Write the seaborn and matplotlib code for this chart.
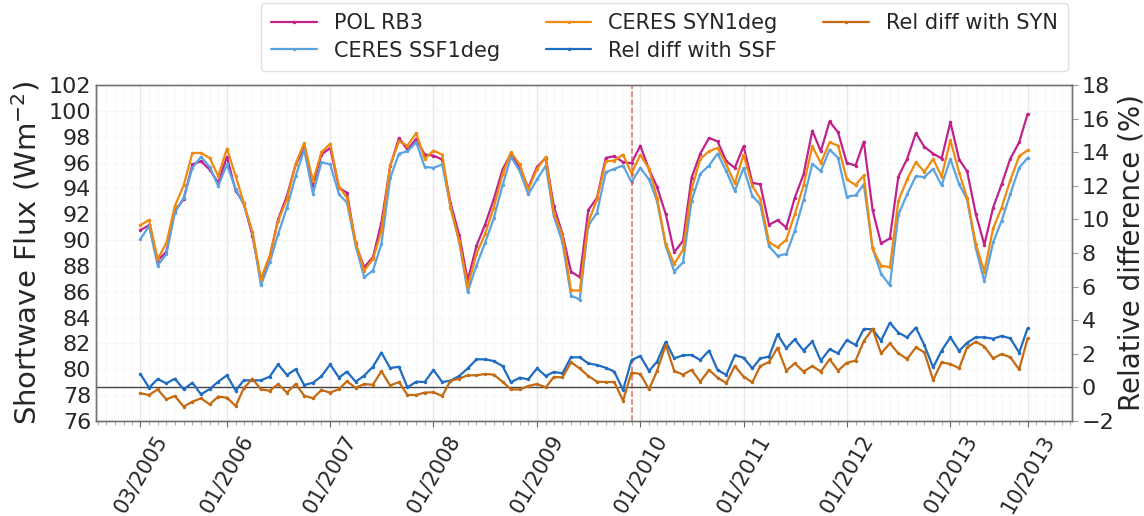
import numpy as np
import pandas as pd
import matplotlib
matplotlib.use("Agg")
import matplotlib.pyplot as plt
import matplotlib.dates as mdates
import seaborn as sns

# Monthly series, March 2005 .. October 2013
months = pd.date_range("2005-03-01", periods=104, freq="MS")

pol_rb3 = [
    90.77, 91.15, 88.41, 89.10, 92.26, 93.15, 95.85, 96.10, 95.46, 94.44,
    96.44, 93.80, 92.90, 90.33, 86.90, 88.67, 91.62, 93.41, 95.85, 97.13,
    94.18, 96.62, 97.13, 94.05, 93.67, 89.69, 87.90, 88.67, 91.36, 95.72,
    97.90, 97.00, 97.82, 96.62, 96.54, 96.23, 92.90, 90.38, 86.90, 89.56,
    91.18, 93.15, 95.46, 96.69, 95.59, 94.05, 95.67, 96.36, 92.64, 90.46,
    87.56, 87.13, 92.31, 93.28, 96.36, 96.49, 96.03, 95.95, 97.30, 95.46,
    94.13, 92.00, 89.05, 89.95, 94.82, 96.69, 97.90, 97.64, 96.10, 95.59,
    97.26, 94.44, 94.31, 91.18, 91.54, 90.97, 93.28, 95.08, 98.46, 96.87,
    99.18, 98.33, 95.97, 95.77, 97.62, 92.33, 89.74, 90.13, 94.90, 96.28,
    98.28, 97.21, 96.69, 96.31, 99.13, 96.23, 95.33, 92.00, 89.64, 92.51,
    94.31, 96.31, 97.56, 99.77,
]

ceres_ssf = [
    90.08, 91.10, 88.03, 88.92, 92.13, 93.28, 95.59, 96.44, 95.67, 94.18,
    95.85, 93.92, 92.77, 90.59, 86.50, 88.28, 90.46, 92.51, 94.95, 97.00,
    93.59, 96.03, 95.85, 93.54, 92.90, 89.56, 87.13, 87.64, 89.70, 94.80,
    96.69, 96.87, 97.56, 95.67, 95.59, 95.85, 92.64, 89.82, 86.00, 88.03,
    89.77, 91.67, 94.23, 96.44, 95.33, 93.54, 94.69, 95.77, 91.87, 89.82,
    85.70, 85.40, 91.10, 92.13, 95.26, 95.51, 95.77, 94.49, 95.59, 94.69,
    93.03, 89.56, 87.56, 88.28, 93.03, 95.13, 95.77, 96.69, 95.33, 93.80,
    95.59, 93.41, 92.77, 89.51, 88.79, 88.92, 90.72, 93.10, 95.90, 95.33,
    97.00, 96.36, 93.36, 93.46, 94.31, 89.36, 87.39, 86.50, 91.97, 93.54,
    94.95, 94.87, 95.51, 94.23, 96.28, 94.31, 93.15, 89.36, 86.80, 89.82,
    91.49, 93.59, 95.59, 96.36,
]

ceres_syn = [
    91.15, 91.56, 88.54, 89.77, 92.64, 94.23, 96.74, 96.74, 96.36, 94.95,
    97.08, 94.95, 92.90, 90.62, 87.00, 88.79, 91.49, 93.15, 95.92, 97.51,
    94.56, 96.80, 97.46, 94.13, 93.28, 89.82, 87.64, 88.54, 90.70, 95.80,
    97.64, 97.31, 98.28, 96.28, 96.92, 96.62, 92.51, 89.95, 86.40, 88.92,
    90.46, 92.51, 95.08, 96.80, 95.85, 93.92, 95.51, 96.44, 92.13, 90.33,
    86.10, 86.10, 91.36, 93.15, 96.10, 96.15, 96.62, 95.15, 96.60, 95.51,
    93.28, 89.69, 88.15, 89.26, 93.92, 96.28, 96.87, 97.13, 95.85, 94.39,
    96.62, 94.18, 93.21, 89.82, 89.44, 90.03, 92.00, 94.23, 97.26, 95.97,
    97.56, 97.31, 94.69, 94.26, 95.00, 89.31, 88.03, 87.90, 93.03, 94.69,
    96.03, 95.28, 96.28, 94.90, 97.74, 95.21, 93.28, 89.69, 87.56, 90.90,
    92.51, 94.64, 96.49, 96.95,
]

rel_ssf = [
    0.80, -0.02, 0.50, 0.24, 0.52, -0.12, 0.28, -0.41, -0.10, 0.34,
    0.72, -0.20, 0.42, 0.42, 0.42, 0.64, 1.37, 0.74, 1.08, 0.14,
    0.28, 0.66, 1.37, 0.58, 0.94, 0.34, 0.70, 1.23, 2.07, 1.15,
    1.23, 0.00, 0.34, 0.32, 1.04, 0.32, 0.40, 0.68, 1.13, 1.67,
    1.67, 1.57, 1.27, 0.30, 0.58, 0.48, 1.13, 0.68, 0.92, 0.84,
    1.79, 1.79, 1.43, 1.33, 1.17, 0.94, -0.16, 1.63, 1.87, 0.98,
    1.53, 2.72, 1.73, 1.91, 1.93, 1.63, 2.19, 1.04, 0.74, 1.91,
    1.77, 1.13, 1.73, 1.83, 3.16, 2.33, 2.86, 2.19, 2.74, 1.59,
    2.27, 2.03, 2.82, 2.52, 3.48, 3.46, 2.78, 3.85, 3.26, 2.98,
    3.56, 2.52, 1.19, 2.19, 2.98, 2.17, 2.66, 2.98, 2.98, 2.90,
    3.06, 2.92, 2.07, 3.52,
]

rel_syn = [
    -0.35, -0.45, -0.12, -0.71, -0.51, -1.15, -0.85, -0.65, -1.01, -0.55,
    -0.61, -1.11, -0.06, 0.52, -0.12, -0.20, 0.20, -0.31, 0.20, -0.49,
    -0.65, -0.16, -0.31, -0.10, 0.36, -0.02, 0.20, 0.16, 0.96, 0.11,
    0.32, -0.45, -0.45, -0.31, -0.29, -0.51, 0.40, 0.52, 0.72, 0.72,
    0.80, 0.76, 0.34, -0.12, -0.12, 0.08, 0.20, 0.00, 0.62, 0.60,
    1.49, 1.13, 0.68, 0.34, 0.32, 0.32, -0.79, 0.88, 0.80, -0.12,
    0.98, 2.52, 0.98, 0.76, 1.04, 0.34, 1.04, 0.58, 0.26, 1.27,
    0.64, 0.30, 1.27, 1.51, 2.36, 1.00, 1.43, 0.94, 1.27, 0.94,
    1.67, 1.00, 1.47, 1.59, 2.76, 3.48, 2.03, 2.62, 2.03, 1.69,
    2.38, 2.09, 0.44, 1.49, 1.39, 1.14, 2.38, 2.72, 2.43, 1.73,
    1.99, 1.79, 1.07, 2.92,
]

tick_dates = ["2005-03-01", "2006-01-01", "2007-01-01", "2008-01-01",
              "2009-01-01", "2010-01-01", "2011-01-01", "2012-01-01",
              "2013-01-01", "2013-10-01"]
tick_labels = ["03/2005", "01/2006", "01/2007", "01/2008", "01/2009",
               "01/2010", "01/2011", "01/2012", "01/2013", "10/2013"]
event_date = "2009-12-01"

flux_ticks = np.arange(76, 103, 2)
rel_ticks = np.arange(-2, 19, 2)

colors = {
    "POL RB3": "#c0228c",
    "CERES SSF1deg": "#5ba3e0",
    "CERES SYN1deg": "#ee8a10",
    "Rel diff with SSF": "#1f6cc0",
    "Rel diff with SYN": "#c46a12",
}

sns.set_style("white")
plt.rcParams["font.family"] = ["DejaVu Sans"]

fig = plt.figure(figsize=(11.44, 5.16), dpi=100)
ax = fig.add_axes([96 / 1144, 1 - 421 / 516, (1072 - 96) / 1144, (421 - 85) / 516])
ax2 = ax.twinx()

line_kw = dict(marker=".", markersize=5, linewidth=1.6, markeredgewidth=0)

flux = pd.DataFrame({"month": months, "POL RB3": pol_rb3,
                     "CERES SSF1deg": ceres_ssf, "CERES SYN1deg": ceres_syn})
rel = pd.DataFrame({"month": months, "Rel diff with SSF": rel_ssf,
                    "Rel diff with SYN": rel_syn})

for name in ["POL RB3", "CERES SSF1deg", "CERES SYN1deg"]:
    sns.lineplot(data=flux, x="month", y=name, ax=ax, color=colors[name],
                 label=name, **line_kw)
for name in ["Rel diff with SSF", "Rel diff with SYN"]:
    sns.lineplot(data=rel, x="month", y=name, ax=ax2, color=colors[name],
                 label=name, **line_kw)

# zero line of the relative difference and event marker
ax2.axhline(0, color="#444444", linewidth=1.0, zorder=1)
ax.axvline(pd.Timestamp(event_date), color="#d9534f", linestyle="--",
           linewidth=1.1, alpha=0.85)

ax.set_ylim(76, 102)
ax2.set_ylim(-2, 18)
ax.set_yticks(flux_ticks)
ax2.set_yticks(rel_ticks)

ax.set_xticks(pd.to_datetime(tick_dates))
ax.set_xticklabels(tick_labels, rotation=60, ha="center", fontsize=15)
ax.xaxis.set_minor_locator(mdates.MonthLocator())
ax.tick_params(axis="x", which="major", length=4, color="0.4", direction="out",
               bottom=True)
ax.tick_params(axis="x", which="minor", length=3, color="0.6", direction="out",
               bottom=True)
ax.tick_params(axis="y", labelsize=16, length=0)
ax2.tick_params(axis="y", labelsize=16, length=4, color="#8aa0c0", direction="out",
                pad=3)

ax.grid(True, which="major", axis="x", color="0.91", linewidth=1.0)
ax.grid(True, which="major", axis="y", color="0.965", linewidth=0.8)
ax.grid(True, which="minor", axis="x", color="0.975", linewidth=0.8)
ax2.grid(False)

ax.set_xlabel("")
ax.set_ylabel("Shortwave Flux (Wm$^{-2}$)", fontsize=21, labelpad=4)
ax2.set_ylabel("Relative difference (%)", fontsize=20, labelpad=2)

for a in (ax, ax2):
    for sp in a.spines.values():
        sp.set_color("0.45")
        sp.set_linewidth(1.0)

h1, l1 = ax.get_legend_handles_labels()
h2, l2 = ax2.get_legend_handles_labels()
ax.get_legend().remove()
ax2.get_legend().remove()
fig.legend(h1 + h2, l1 + l2, ncol=3, fontsize=15, loc="upper right",
           bbox_to_anchor=(1068 / 1144, 1 - 3 / 516), borderaxespad=0,
           frameon=True, edgecolor="0.85", borderpad=0.5, labelspacing=0.35,
           columnspacing=2.2, handlelength=2.2)

fig.savefig("out.png", dpi=100)
